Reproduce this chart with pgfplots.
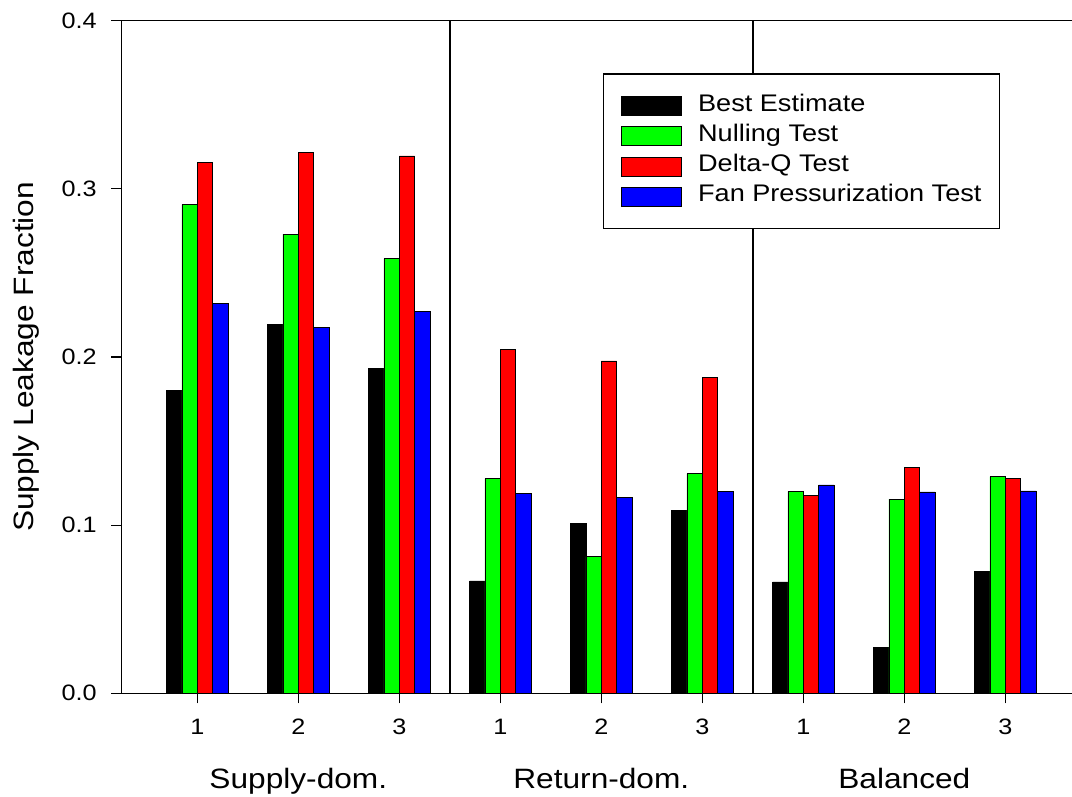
\documentclass[border=0pt]{standalone}
\usepackage{fontspec}
\setmainfont{Liberation Sans}[FakeStretch=1.13]
\usepackage{pgfplots}
\pgfplotsset{compat=1.18}
\usepackage{pgfplotstable}

\definecolor{pgreen}{RGB}{0,255,0}
\definecolor{pred}{RGB}{255,0,0}
\definecolor{pblue}{RGB}{0,0,255}

\pgfplotstableread{
x best null delta fan
1 0.1798 0.2906 0.3154 0.2317
2 0.2192 0.2730 0.3217 0.2174
3 0.1933 0.2585 0.3195 0.2270
4 0.0668 0.1276 0.2042 0.1187
5 0.1011 0.0812 0.1976 0.1167
6 0.1088 0.1306 0.1877 0.1199
7 0.0662 0.1201 0.1175 0.1239
8 0.0275 0.1154 0.1342 0.1197
9 0.0726 0.1288 0.1280 0.1203
}\data

\pgfplotsset{
  mylegend/.style={legend image code/.code={\draw[##1, draw=black, line width=0.8pt] (0pt,-12.3pt) rectangle (60pt,6.7pt);}},
  mylegendlast/.style={legend image code/.code={\path[draw=none, fill=none] (0pt,-15pt) rectangle (1pt,4pt);\draw[##1, draw=black, line width=0.8pt] (0pt,-12.3pt) rectangle (60pt,6.7pt);}},
}

\begin{document}
\begin{tikzpicture}
\useasboundingbox (-121.3pt,-102.7pt) rectangle (950.7pt,693.3pt);
\begin{axis}[
  at={(0,0)}, anchor=south west,
  scale only axis, width=950.7pt, height=672.8pt,
  xmin=0.2475, xmax=9.66, ymin=0, ymax=0.4,
  clip=false,
  axis x line*=box, axis y line*=left,
  axis line style={black, line width=1.2pt},
  tick pos=left, tick align=outside,
  major tick length=10pt,
  tick style={black, line width=1.2pt},
  xtick={1,...,9}, xticklabels={1,2,3,1,2,3,1,2,3},
  ytick={0,0.1,0.2,0.3,0.4},
  /pgf/number format/assume math mode=true,
  yticklabel style={/pgf/number format/.cd, fixed, fixed zerofill, precision=1, /tikz/.cd, xshift=-11pt},
  xticklabel style={yshift=-12pt},
  tick label style={font=\fontsize{22.3}{26}\selectfont},
  extra x ticks={3.5,6.5}, extra x tick labels={},
  extra x tick style={major tick length=0pt, grid=major},
  major grid style={black, line width=1.5pt},
  ylabel={Supply Leakage Fraction},
  ylabel style={at={(axis description cs:-0.0999,0.5)}, anchor=center, rotate=0, font=\fontsize{28}{33}\selectfont},
  ybar=0pt, bar width=0.152,
  legend style={at={(axis description cs:0.5064,0.9215)}, anchor=north west,
    draw=black, line width=1.2pt, font=\fontsize{24}{29}\selectfont,
    inner xsep=18pt, inner ysep=20pt, row sep=8pt,
    nodes={inner sep=0pt},
    /tikz/every odd column/.append style={column sep=16pt}},
  legend cell align=left,
]
\addplot[fill=black, draw=black, line width=0.8pt, mylegend] table[x=x,y=best]{\data};
\addplot[fill=pgreen, draw=black, line width=0.8pt, mylegend] table[x=x,y=null]{\data};
\addplot[fill=pred, draw=black, line width=0.8pt, mylegend] table[x=x,y=delta]{\data};
\addplot[fill=pblue, draw=black, line width=0.8pt, mylegendlast] table[x=x,y=fan]{\data};
\legend{Best Estimate, Nulling Test, Delta-Q Test, Fan Pressurization Test}
\node[anchor=base, font=\fontsize{28}{33}\selectfont] at ([yshift=-95pt]axis cs:2,0) {Supply-dom.};
\node[anchor=base, font=\fontsize{28}{33}\selectfont] at ([yshift=-95pt]axis cs:5,0) {Return-dom.};
\node[anchor=base, font=\fontsize{28}{33}\selectfont] at ([yshift=-95pt]axis cs:8,0) {Balanced};
\end{axis}
\end{tikzpicture}
\end{document}
